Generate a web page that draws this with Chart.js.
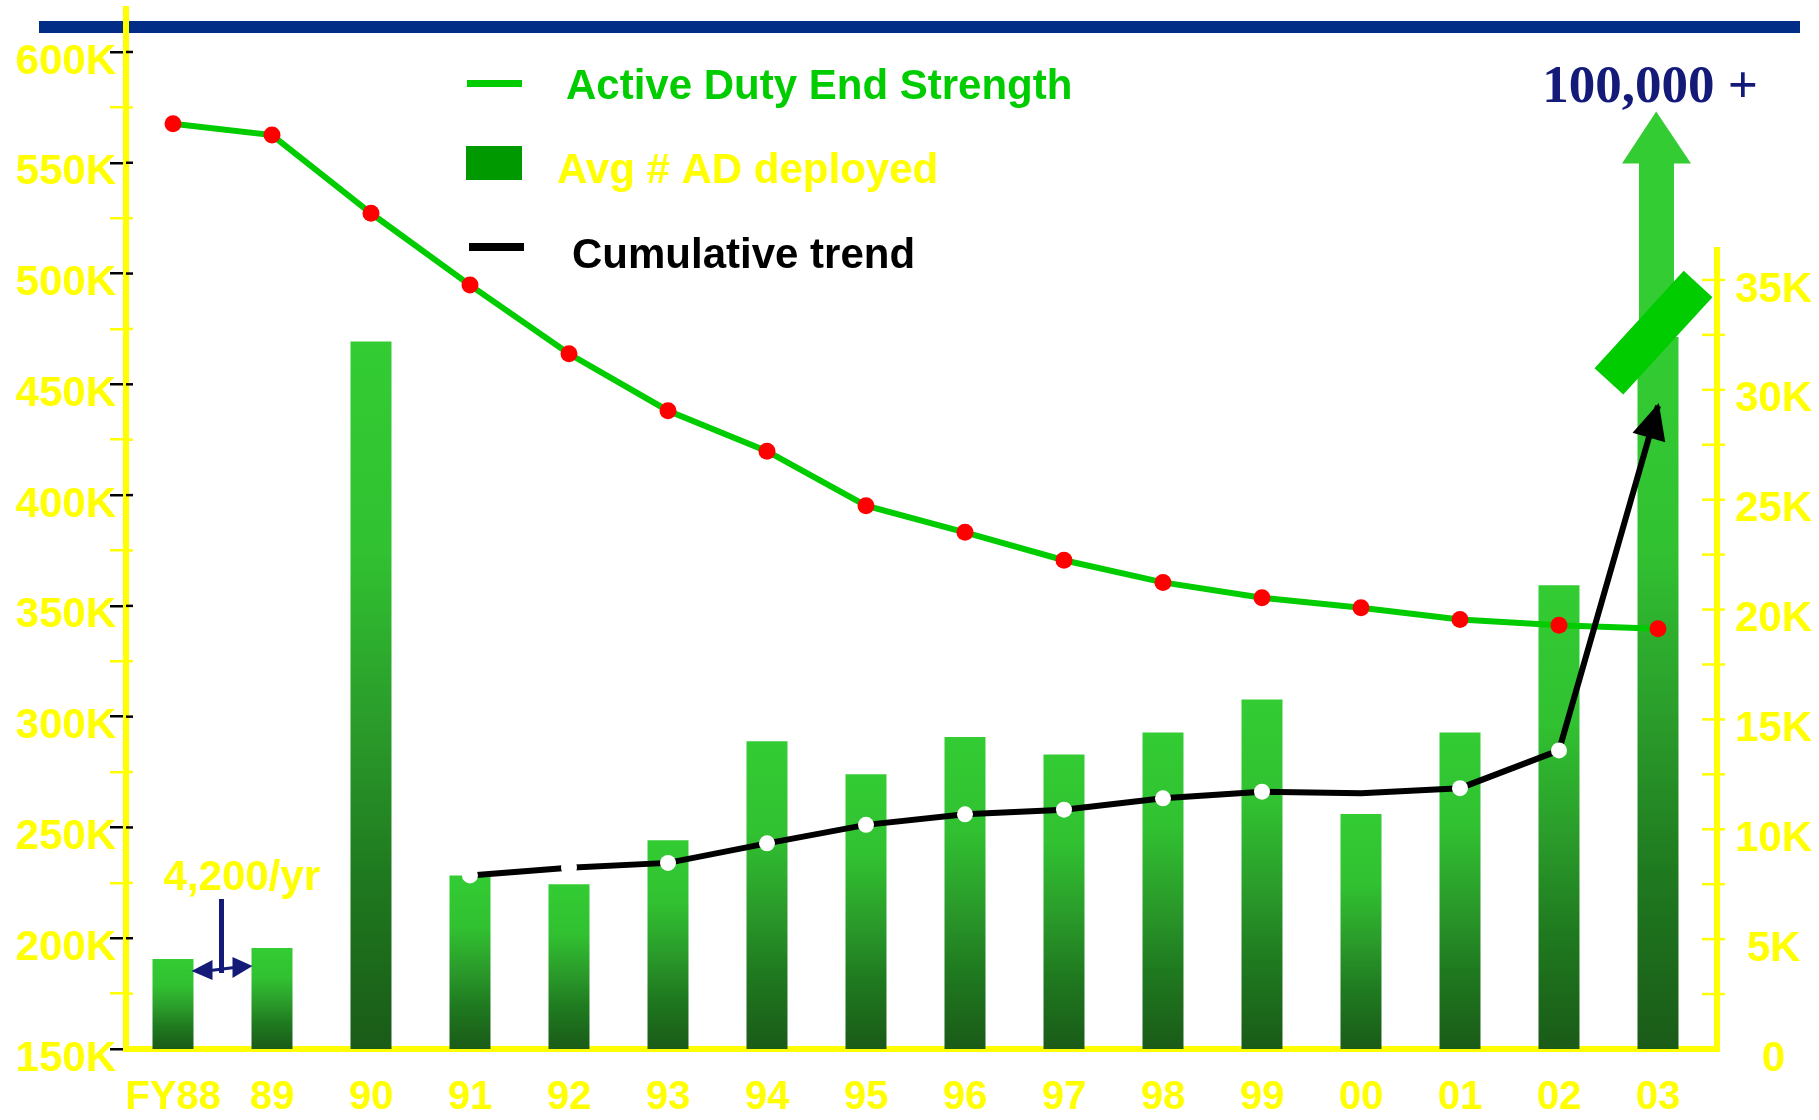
<!DOCTYPE html>
<html>
<head>
<meta charset="utf-8">
<script src="https://cdn.jsdelivr.net/npm/chart.js@4.4.1/dist/chart.umd.min.js"></script>
<style>
  html, body { margin: 0; padding: 0; background: #ffffff; }
  #wrap { position: relative; width: 1819px; height: 1120px; }
  canvas { display: block; }
</style>
</head>
<body>
<div id="wrap"><canvas id="chart"></canvas></div>
<script>
// ---------------- data (thousands) ----------------
const fiscalYears = ['FY88','89','90','91','92','93','94','95','96','97','98','99','00','01','02','03'];
const activeDutyEndStrengthK = [567.6, 562.5, 527.2, 494.8, 463.8, 438.1, 419.8, 395.2, 383.2, 370.6, 360.6, 353.7, 349.2, 343.9, 341.3, 339.7];
const avgADDeployedK = [4.1, 4.6, 32.2, 7.9, 7.5, 9.5, 14.0, 12.5, 14.2, 13.4, 14.4, 15.9, 10.7, 14.4, 21.1, 32.4];
const cumulativeTrendK = [null, null, null, 7.9, 8.25, 8.47, 9.36, 10.2, 10.68, 10.89, 11.41, 11.71, 11.64, 11.87, 13.59, 29.27];
const leftAxisTicksK = [150, 175, 200, 225, 250, 275, 300, 325, 350, 375, 400, 425, 450, 475, 500, 525, 550, 575, 600];
const leftAxisLabeledK = [150, 200, 250, 300, 350, 400, 450, 500, 550, 600];
const rightAxisTicksK = [0, 2.5, 5, 7.5, 10, 12.5, 15, 17.5, 20, 22.5, 25, 27.5, 30, 32.5, 35];
const rightAxisLabeledK = [0, 5, 10, 15, 20, 25, 30, 35];
const legendLabels = ['Active Duty End Strength', 'Avg # AD deployed', 'Cumulative trend'];
const fy03Note = '100,000 +';
const growthNote = '4,200/yr';

// ---------------- style ----------------
const YEL = '#FFFF00';
const SANS = '"Liberation Sans", Arial, Helvetica, sans-serif';
const SERIF = '"Liberation Serif", "Times New Roman", serif';
const NAVY = '#141A78';

function barGradient(ctx) {
  const chart = ctx.chart;
  if (!chart.chartArea || ctx.type !== 'data' || !ctx.raw) return '#2A9A2A';
  const s = chart.scales.y1;
  const top = s.getPixelForValue(ctx.raw.y);
  const bottom = s.getPixelForValue(0);
  const g = chart.ctx.createLinearGradient(0, top, 0, bottom);
  g.addColorStop(0, '#33CC33');
  g.addColorStop(0.3, '#31C131');
  g.addColorStop(0.55, '#2A9A2A');
  g.addColorStop(0.75, '#1F7A1F');
  g.addColorStop(1, '#1A5B18');
  return g;
}

function noPad(s) {
  s.paddingTop = 0; s.paddingBottom = 0; s.paddingLeft = 0; s.paddingRight = 0;
}

const decor = {
  id: 'decor',
  beforeDraw(chart) {
    const c = chart.ctx;
    c.save();
    c.fillStyle = '#022D86';
    c.fillRect(39, 21, 1761, 12);
    c.restore();
  },
  afterDatasetsDraw(chart) {
    const c = chart.ctx;
    const x = chart.scales.x, y = chart.scales.y, y1 = chart.scales.y1;
    const area = chart.chartArea;
    c.save();

    // inner part of left ticks
    c.lineWidth = 2.5;
    leftAxisTicksK.forEach(v => {
      if (v === 150) return;
      const py = y.getPixelForValue(v);
      c.strokeStyle = leftAxisLabeledK.includes(v) ? '#000' : YEL;
      c.beginPath(); c.moveTo(area.left, py); c.lineTo(area.left + 7, py); c.stroke();
    });

    // right axis line + ticks
    const rx = area.right;
    c.strokeStyle = YEL;
    c.lineWidth = 6;
    c.beginPath(); c.moveTo(rx, y1.getPixelForValue(36.5)); c.lineTo(rx, area.bottom + 3); c.stroke();
    c.lineWidth = 2.5;
    rightAxisTicksK.forEach(v => {
      if (v === 0) return;
      const py = y1.getPixelForValue(v);
      c.beginPath(); c.moveTo(rx - 15, py); c.lineTo(rx + 8, py); c.stroke();
    });

    // FY03 up-arrow continuing the bar
    const last = fiscalYears.length - 1;
    const bx = x.getPixelForValue(last);
    const barTop = y1.getPixelForValue(avgADDeployedK[last]);
    const headBase = y1.getPixelForValue(40.3);
    const tip = y1.getPixelForValue(42.66);
    c.fillStyle = '#33CC33';
    c.fillRect(bx - 19, headBase - 1, 35, barTop - headBase + 2);
    c.beginPath();
    c.moveTo(bx - 1.8, tip);
    c.lineTo(bx - 36, headBase);
    c.lineTo(bx + 33, headBase);
    c.closePath();
    c.fill();

    // break symbol
    c.save();
    c.translate(bx - 4.5, y1.getPixelForValue(32.6));
    c.rotate(-47.5 * Math.PI / 180);
    c.fillStyle = '#00CC00';
    c.fillRect(-66, -19.5, 132, 39);
    c.restore();

    // black arrowhead at end of cumulative trend
    const meta = chart.getDatasetMeta(2);
    const pts = meta.data;
    const p1 = pts[pts.length - 2], p2 = pts[pts.length - 1];
    const ang = Math.atan2(p2.y - p1.y, p2.x - p1.x);
    const tx = p2.x + 3 * Math.cos(ang), ty = p2.y + 3 * Math.sin(ang);
    const L = 36, W = 17;
    const bxx = tx - L * Math.cos(ang), byy = ty - L * Math.sin(ang);
    c.fillStyle = '#000';
    c.beginPath();
    c.moveTo(tx, ty);
    c.lineTo(bxx - W * Math.sin(ang), byy + W * Math.cos(ang));
    c.lineTo(bxx + W * Math.sin(ang), byy - W * Math.cos(ang));
    c.closePath();
    c.fill();

    // 100,000 + note
    c.fillStyle = NAVY;
    c.font = 'bold 53px ' + SERIF;
    c.textAlign = 'center';
    c.textBaseline = 'alphabetic';
    c.fillText(fy03Note, bx - 8, 101.7);

    // 4,200/yr annotation between FY88 and FY89
    const mid = x.getPixelForValue(0.5);
    c.fillStyle = YEL;
    c.font = 'bold 42px ' + SANS;
    c.textAlign = 'left';
    c.fillText(growthNote, mid - 59, 890);
    c.strokeStyle = NAVY;
    c.fillStyle = NAVY;
    c.lineWidth = 5;
    c.beginPath(); c.moveTo(mid - 1, 899); c.lineTo(mid - 1, 973); c.stroke();
    c.lineWidth = 3;
    c.beginPath(); c.moveTo(mid - 12, 970.5); c.lineTo(mid + 12, 967.5); c.stroke();
    c.beginPath(); c.moveTo(mid - 31, 971); c.lineTo(mid - 10, 960); c.lineTo(mid - 10, 980); c.closePath(); c.fill();
    c.beginPath(); c.moveTo(mid + 30, 966); c.lineTo(mid + 10, 957); c.lineTo(mid + 10, 978); c.closePath(); c.fill();

    // legend
    c.font = 'bold 42px ' + SANS;
    c.textAlign = 'left';
    c.textBaseline = 'alphabetic';
    c.fillStyle = '#00CC00';
    c.fillRect(467, 80, 55, 7);
    c.fillText(legendLabels[0], 566, 98.5);
    c.fillStyle = '#009900';
    c.fillRect(466, 146, 56, 34);
    c.fillStyle = YEL;
    c.fillText(legendLabels[1], 557, 183);
    c.fillStyle = '#000';
    c.fillRect(469, 243, 55, 8);
    c.fillText(legendLabels[2], 572, 268);

    c.restore();
  }
};

new Chart(document.getElementById('chart'), {
  type: 'bar',
  data: {
    datasets: [
      {
        type: 'line',
        label: legendLabels[0],
        data: activeDutyEndStrengthK.map((v, i) => ({ x: i, y: v })),
        yAxisID: 'y',
        borderColor: '#00CC00',
        borderWidth: 6,
        pointRadius: 8.5,
        pointBackgroundColor: '#FF0000',
        pointBorderWidth: 0,
        tension: 0,
        order: 2
      },
      {
        type: 'bar',
        label: legendLabels[1],
        data: avgADDeployedK.map((v, i) => ({ x: i, y: v })),
        yAxisID: 'y1',
        backgroundColor: barGradient,
        borderWidth: 0,
        barPercentage: 0.414,
        categoryPercentage: 1,
        order: 3
      },
      {
        type: 'line',
        label: legendLabels[2],
        data: cumulativeTrendK.map((v, i) => ({ x: i, y: v })).filter(p => p.y !== null),
        yAxisID: 'y1',
        borderColor: '#000000',
        borderWidth: 6,
        pointRadius: ctx => (ctx.raw && (fiscalYears[ctx.raw.x] === '00' || ctx.raw.x === fiscalYears.length - 1)) ? 0 : 8,
        pointBackgroundColor: '#FFFFFF',
        pointBorderWidth: 0,
        tension: 0,
        order: 1
      }
    ]
  },
  options: {
    responsive: true,
    maintainAspectRatio: false,
    animation: false,
    events: [],
    layout: { padding: { top: 9, left: 0, right: 0, bottom: 0 } },
    plugins: { legend: { display: false }, tooltip: { enabled: false } },
    scales: {
      x: {
        type: 'linear',
        position: 'bottom',
        min: -0.4747,
        max: 15.596,
        offset: false,
        grid: { display: false, offset: false },
        border: { color: YEL, width: 6 },
        afterBuildTicks: s => { s.ticks = fiscalYears.map((_, i) => ({ value: i })); },
        afterFit: s => { s.height = 71; noPad(s); },
        ticks: {
          autoSkip: false, maxRotation: 0, minRotation: 0,
          color: YEL,
          font: { family: SANS, size: 40, weight: 'bold' },
          padding: 17,
          callback: v => fiscalYears[v]
        }
      },
      y: {
        position: 'left',
        min: 150,
        max: 619.4,
        grid: {
          display: true, drawOnChartArea: false, tickLength: 16, lineWidth: 2.5,
          color: ctx => (ctx.tick && leftAxisLabeledK.includes(ctx.tick.value)) ? '#000000' : YEL
        },
        border: { color: YEL, width: 6 },
        afterBuildTicks: s => { s.ticks = leftAxisTicksK.map(v => ({ value: v })); },
        afterFit: s => { s.width = 126; noPad(s); },
        ticks: {
          color: YEL,
          font: { family: SANS, size: 42, weight: 'bold' },
          padding: -6,
          labelOffset: 10,
          callback: v => leftAxisLabeledK.includes(v) ? v + 'K' : ''
        }
      },
      y1: {
        position: 'right',
        min: 0,
        max: 47.33,
        grid: { display: false },
        border: { display: false },
        afterBuildTicks: s => { s.ticks = rightAxisTicksK.map(v => ({ value: v })); },
        afterFit: s => { s.width = 102; noPad(s); },
        ticks: {
          color: YEL,
          font: { family: SANS, size: 42, weight: 'bold' },
          padding: 10,
          crossAlign: 'center',
          labelOffset: 10,
          callback: v => rightAxisLabeledK.includes(v) ? (v === 0 ? '0' : v + 'K') : ''
        }
      }
    }
  },
  plugins: [decor]
});
</script>
</body>
</html>
